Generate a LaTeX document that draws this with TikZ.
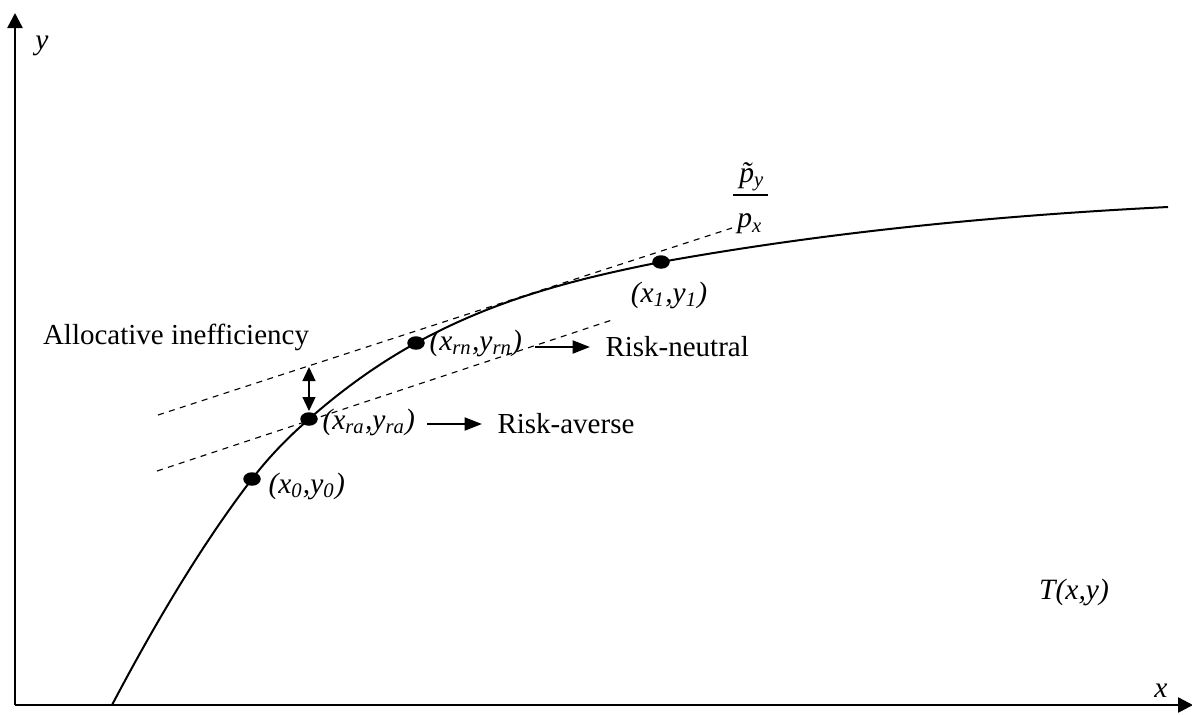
\documentclass[tikz,border=0pt]{standalone}
\usepackage{fontspec}
\setmainfont{Liberation Serif}
\usetikzlibrary{arrows.meta,shapes.geometric}
\begin{document}
\begin{tikzpicture}[x=0.4pt,y=-0.4pt,>={Triangle[length=6pt,width=6pt]},
		font=\fontsize{11.6}{14}\selectfont, line join=round,
		lab/.style={font=\fontsize{11.8}{14}\selectfont\itshape,inner sep=0pt},
		dot/.style={ellipse,fill,inner sep=0pt,minimum width=7pt,minimum height=5.4pt},
		tang/.style={line width=0.45pt,dash pattern=on 2.4pt off 2.2pt}]
		\useasboundingbox (0,0) rectangle (1192,714);
		\def\xo{15} \def\yo{705}
		% axes
		\coordinate (O) at (\xo,\yo);
		\coordinate (ytip) at (\xo,13);
		\coordinate (xtip) at (1193,\yo);
		\draw[line width=1pt,->] (O)--(ytip);
		\draw[line width=1pt,->] (O)--(xtip);
		\node[lab] (ylab) at (42,46) {y};
		\node[lab] (xlab) at (1161,691) {x};
		% frontier T(x,y)
		\draw[line width=0.8pt] (112,705)
		..controls (158.7,616.3) and (205.3,539.7)..(252,479)
		..controls (271,454.3) and (290,435.7)..(309,419)
		..controls (344.7,387.6) and (380.3,362.6)..(416,343)
		..controls (497.7,298.1) and (579.3,278.3)..(661,262)
		..controls (830,231.6) and (999,215.5)..(1168,207);
		\node[lab] (T) at (1074,592) {T(x,y)};
		% price lines
		\coordinate (u0) at (158,415); \coordinate (u1) at (732,228);
		\coordinate (l0) at (157,471); \coordinate (l1) at (612,320);
		\draw[tang] (u0)--(u1);
		\draw[tang] (l0)--(l1);
		\node[lab] (ptil) at (752,177) {\~{p}\textsubscript{y}};
		\node[lab] (px) at (750,224) {p\textsubscript{x}};
		\coordinate (bar0) at (733,195); \coordinate (bar1) at (768,195);
		\draw[line width=0.5pt] (bar0)--(bar1);
		% points on the frontier
		\node[dot] (d1) at (661,262) {};
		\node[dot] (drn) at (416,343) {};
		\node[dot] (dra) at (309,419) {};
		\node[dot] (d0) at (252,479) {};
		\node[lab] (t1) at (669,295) {(x\textsubscript{1},y\textsubscript{1})};
		\node[lab,anchor=west] (trn) at (429,343) {(x\textsubscript{rn},y\textsubscript{rn})};
		\node[lab,anchor=west] (tra) at (322,422) {(x\textsubscript{ra},y\textsubscript{ra})};
		\node[lab,anchor=west] (t0) at (268,486) {(x\textsubscript{0},y\textsubscript{0})};
		% allocative inefficiency
		\node (alloc) at (176,337) {Allocative inefficiency};
		\coordinate (g0) at (309,367); \coordinate (g1) at (309,411);
		\draw[line width=0.5pt,{Triangle[length=5.6pt,width=5.2pt]}-{Triangle[length=5.6pt,width=5.2pt]}] (g0)--(g1);
		% risk attitudes
		\coordinate (rn0) at (535,347); \coordinate (rn1) at (590,347);
		\coordinate (ra0) at (427,424); \coordinate (ra1) at (482,424);
		\draw[line width=0.9pt,-{Triangle[length=7pt,width=5.2pt]}] (rn0)--(rn1);
		\draw[line width=0.9pt,-{Triangle[length=7pt,width=5.2pt]}] (ra0)--(ra1);
		\node[anchor=west,inner sep=0pt] (neutral) at (605,347) {Risk-neutral};
		\node[anchor=west,inner sep=0pt] (averse) at (497,424) {Risk-averse};
	\end{tikzpicture}
\end{document}
